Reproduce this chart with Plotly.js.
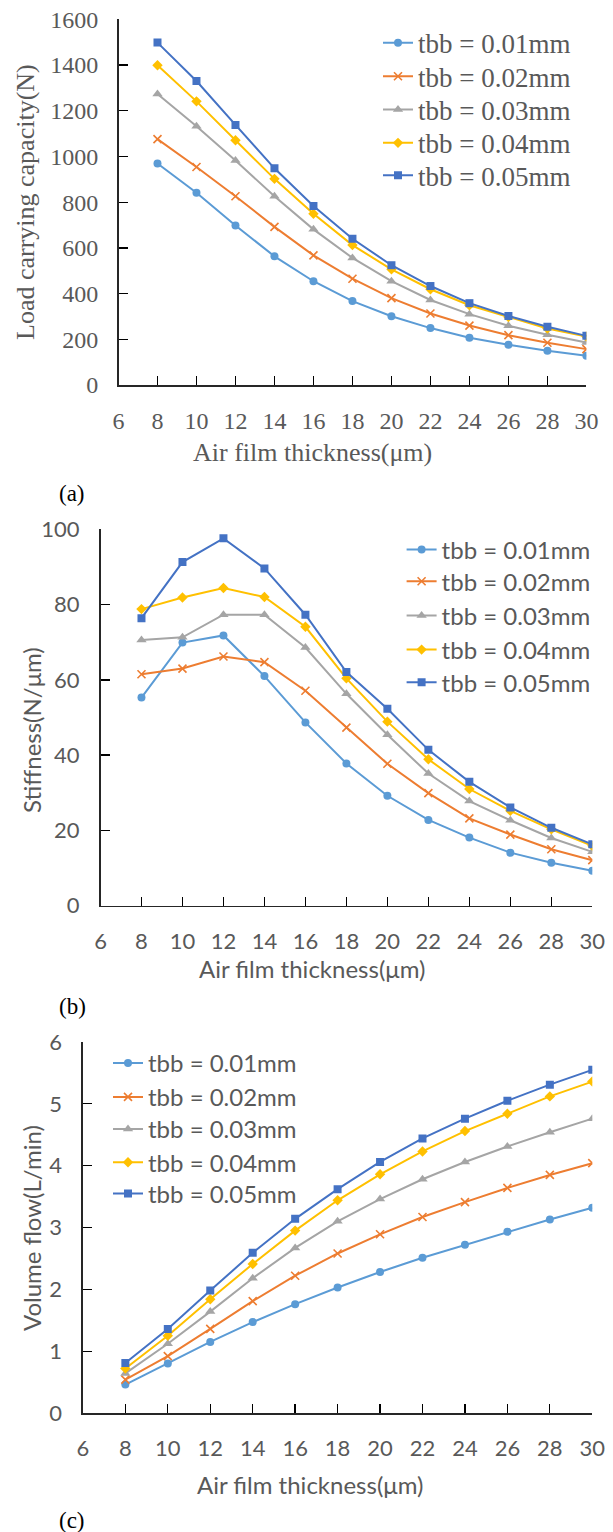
<!DOCTYPE html>
<html>
<head>
<meta charset="utf-8">
<script src="https://cdn.plot.ly/plotly-3.0.1.min.js"></script>
<style>html,body{margin:0;padding:0;background:#fff;}#chart{width:613px;height:1532px;}</style>
</head>
<body>
<div id="chart"></div>
<script>
// ---------- data ----------
const thickness = [8, 10, 12, 14, 16, 18, 20, 22, 24, 26, 28, 30];
const seriesNames = ["tbb = 0.01mm", "tbb = 0.02mm", "tbb = 0.03mm", "tbb = 0.04mm", "tbb = 0.05mm"];

const load001 = [969, 841, 698, 563, 454, 367, 301, 249, 207, 176, 150, 128];
const load002 = [1076, 954, 826, 692, 567, 465, 380, 313, 260, 218, 185, 157];
const load003 = [1273, 1132, 982, 826, 681, 556, 454, 372, 310, 259, 220, 186];
const load004 = [1399, 1241, 1071, 902, 749, 612, 506, 419, 349, 297, 247, 212];
const load005 = [1498, 1330, 1138, 948, 783, 640, 524, 433, 358, 302, 255, 215];

const stiff001 = [55.3, 69.9, 71.8, 61.0, 48.7, 37.8, 29.2, 22.8, 18.1, 14.1, 11.4, 9.3];
const stiff002 = [61.5, 63.0, 66.2, 64.7, 57.1, 47.3, 37.7, 29.9, 23.2, 18.9, 15.0, 12.1];
const stiff003 = [70.6, 71.3, 77.3, 77.3, 68.6, 56.3, 45.4, 35.1, 27.8, 22.7, 18.0, 14.3];
const stiff004 = [78.8, 81.9, 84.4, 82.0, 74.1, 60.4, 48.9, 38.9, 31.0, 25.2, 20.3, 15.9];
const stiff005 = [76.4, 91.3, 97.6, 89.6, 77.3, 62.1, 52.3, 41.4, 32.9, 26.1, 20.7, 16.3];

const flow001 = [0.46, 0.80, 1.15, 1.47, 1.76, 2.03, 2.28, 2.51, 2.72, 2.93, 3.13, 3.32];
const flow002 = [0.54, 0.92, 1.36, 1.81, 2.22, 2.58, 2.89, 3.17, 3.41, 3.64, 3.85, 4.04];
const flow003 = [0.64, 1.12, 1.64, 2.18, 2.67, 3.10, 3.46, 3.78, 4.06, 4.31, 4.54, 4.76];
const flow004 = [0.72, 1.25, 1.84, 2.41, 2.95, 3.44, 3.86, 4.23, 4.56, 4.84, 5.12, 5.36];
const flow005 = [0.81, 1.36, 1.98, 2.59, 3.14, 3.62, 4.06, 4.44, 4.76, 5.05, 5.31, 5.55];

const xTickVals = [6, 8, 10, 12, 14, 16, 18, 20, 22, 24, 26, 28, 30];

// ---------- styles ----------
const W = 613, H = 1532;
const px = v => v / W;
const py = v => 1 - v / H;
const colors = ["#5B9BD5", "#ED7D31", "#A5A5A5", "#FFC000", "#4472C4"];
const symbols = ["circle", "x-thin-open", "triangle-up", "diamond", "square"];
const msizes = [8, 8, 9, 8, 8];
const SERIF = "Liberation Serif, Times New Roman, serif";
const SANS = "Lato, Carlito, Calibri, sans-serif";
const TXT = "#595959";

const panels = [
  {data: [load001, load002, load003, load004, load005], xa: "x", ya: "y",
   legX: 378, legY: [43.3, 76.7, 110, 143.3, 175.7], font: SERIF, legSize: 27},
  {data: [stiff001, stiff002, stiff003, stiff004, stiff005], xa: "x2", ya: "y2",
   legX: 401.6, legY: [550, 581.7, 616, 650, 682.7], font: SANS, legSize: 24},
  {data: [flow001, flow002, flow003, flow004, flow005], xa: "x3", ya: "y3",
   legX: 108, legY: [1063.3, 1097.3, 1129.3, 1162.7, 1194], font: SANS, legSize: 24}
];

const traces = [];
const layout = {
  width: W, height: H,
  margin: {l: 0, r: 0, t: 0, b: 0},
  paper_bgcolor: "#fff", plot_bgcolor: "rgba(0,0,0,0)",
  showlegend: true,
  annotations: [], shapes: []
};

let legIdx = 1;
panels.forEach((p, pi) => {
  p.data.forEach((vals, si) => {
    const legName = legIdx === 1 ? "legend" : "legend" + legIdx;
    traces.push({
      type: "scatter", mode: "lines+markers",
      x: thickness, y: vals, name: seriesNames[si],
      xaxis: p.xa, yaxis: p.ya, legend: legName,
      line: {color: colors[si], width: 2},
      marker: {symbol: symbols[si], size: msizes[si], color: colors[si],
               line: {color: colors[si], width: si === 1 ? 1.6 : 0}}
    });
    layout[legName] = {
      x: px(p.legX), y: py(p.legY[si]), xanchor: "left", yanchor: "middle",
      bgcolor: "rgba(0,0,0,0)", borderwidth: 0,
      font: {family: p.font, size: p.legSize, color: TXT},
      itemclick: false
    };
    legIdx++;
  });
});

function axisBase(font, size) {
  return {
    showgrid: false, zeroline: false, showline: true,
    linecolor: "#262626", linewidth: 1.5,
    ticks: "inside", ticklen: 9, tickwidth: 1.3, tickcolor: "#000",
    tickfont: {family: font, size: size, color: TXT},
    fixedrange: true
  };
}

// panel (a)
layout.xaxis = Object.assign(axisBase(SERIF, 24), {
  domain: [px(118.5), px(586.4)], anchor: "y", range: [6, 30],
  tickvals: xTickVals, ticklabelstandoff: 14
});
layout.yaxis = Object.assign(axisBase(SERIF, 24), {
  domain: [py(385), py(19.3)], anchor: "x", range: [0, 1600], dtick: 200,
  ticklabelstandoff: 14
});
// panel (b)
layout.xaxis2 = Object.assign(axisBase(SANS, 22), {
  domain: [px(100.5), px(592.3)], anchor: "y2", range: [6, 30],
  tickvals: xTickVals, ticklabelstandoff: 15
});
layout.yaxis2 = Object.assign(axisBase(SANS, 22), {
  domain: [py(905.7), py(529.3)], anchor: "x2", range: [0, 100], dtick: 20,
  ticklabelstandoff: 15
});
// panel (c)
layout.xaxis3 = Object.assign(axisBase(SANS, 22), {
  domain: [px(82.9), px(592.3)], anchor: "y3", range: [6, 30],
  tickvals: xTickVals, ticklabelstandoff: 15
});
layout.yaxis3 = Object.assign(axisBase(SANS, 22), {
  domain: [py(1413), py(1042)], anchor: "x3", range: [0, 6], dtick: 1,
  ticklabelstandoff: 15
});

function ann(text, x, y, font, size, color, angle) {
  layout.annotations.push({
    text: text, xref: "paper", yref: "paper", x: px(x), y: py(y),
    xanchor: "center", yanchor: "middle", showarrow: false, textangle: angle || 0,
    font: {family: font, size: size, color: color}
  });
}
// axis titles
ann("Air film thickness(μm)", 313, 452, SERIF, 26, TXT);
ann("Load carrying capacity(N)", 25, 202, SERIF, 26, TXT, -90);
ann("Air film thickness(μm)", 312, 968, SANS, 24, TXT);
ann("Stiffness(N/μm)", 31, 730, SANS, 24, TXT, -90);
ann("Air film thickness(μm)", 310, 1484, SANS, 24, TXT);
ann("Volume flow(L/min)", 31, 1228, SANS, 24, TXT, -90);
// panel labels
ann("(a)", 72, 493, SERIF, 23, "#000");
ann("(b)", 72, 1006.7, SERIF, 23, "#000");
ann("(c)", 72, 1520, SERIF, 23, "#000");

Plotly.newPlot("chart", traces, layout, {staticPlot: true, displayModeBar: false});
</script>
</body>
</html>
